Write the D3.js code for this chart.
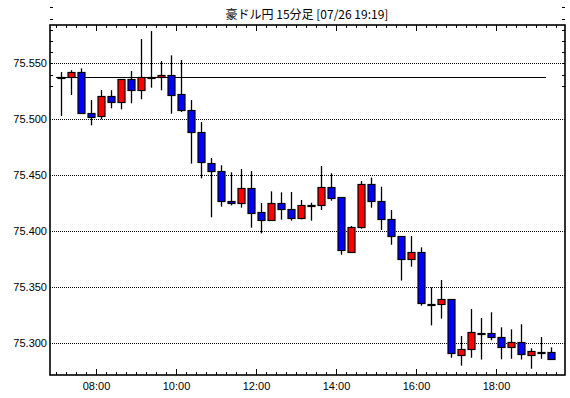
<!DOCTYPE html>
<meta charset="utf-8">
<style>
  body { margin: 0; background: #fff; }
  text { font-family: "Liberation Sans", Arial, sans-serif; font-size: 11px; fill: #000; }
  .title { font-family: "Noto Sans CJK JP", sans-serif; font-size: 12px; }
  .axis path { display: none; }
  .axis line { stroke: #000; shape-rendering: crispEdges; }
</style>
<body>
<script src="https://d3js.org/d3.v7.min.js"></script>
<script>

var titleText = "豪ドル円 15分足 [07/26 19:19]";

var times = ["07:00","07:15","07:30","07:45","08:00","08:15","08:30","08:45",
  "09:00","09:15","09:30","09:45","10:00","10:15","10:30","10:45",
  "11:00","11:15","11:30","11:45","12:00","12:15","12:30","12:45",
  "13:00","13:15","13:30","13:45","14:00","14:15","14:30","14:45",
  "15:00","15:15","15:30","15:45","16:00","16:15","16:30","16:45",
  "17:00","17:15","17:30","17:45","18:00","18:15","18:30","18:45",
  "19:00","19:15"];

var openVals = [75.5375,75.5375,75.5420,75.5053,75.5027,75.5205,75.5152,75.5357,
  75.5268,75.5381,75.5380,75.5400,75.5223,75.5080,75.4884,75.4607,
  75.4536,75.4268,75.4250,75.4387,75.4170,75.4098,75.4250,75.4199,
  75.4116,75.4234,75.4232,75.4392,75.4304,75.3812,75.4032,75.4420,
  75.4268,75.4107,75.3955,75.3750,75.3813,75.3352,75.3348,75.3393,
  75.2893,75.2949,75.3093,75.3089,75.3054,75.2966,75.3015,75.2893,
  75.2925,75.2920];

var highVals = [75.5422,75.5438,75.5455,75.5172,75.5262,75.5260,75.5357,75.5431,
  75.5717,75.5788,75.5520,75.5571,75.5530,75.5172,75.4976,75.4655,
  75.4590,75.4527,75.4556,75.4538,75.4253,75.4357,75.4348,75.4351,
  75.4280,75.4255,75.4583,75.4518,75.4304,75.4047,75.4449,75.4479,
  75.4398,75.4190,75.3955,75.3958,75.3857,75.3500,75.3565,75.3393,
  75.3065,75.3306,75.3226,75.3277,75.3143,75.3125,75.3170,75.2955,
  75.3056,75.2964];

var lowVals = [75.5029,75.5217,75.5050,75.4946,75.5000,75.5098,75.5089,75.5143,
  75.5179,75.5282,75.5259,75.5050,75.5065,75.4604,75.4473,75.4125,
  75.4220,75.4232,75.4211,75.4032,75.3982,75.4098,75.4104,75.4095,
  75.4107,75.4095,75.4190,75.4273,75.3791,75.3812,75.4023,75.4211,
  75.4012,75.3880,75.3560,75.3684,75.3336,75.3160,75.3220,75.2871,
  75.2800,75.2871,75.2855,75.3027,75.2857,75.2862,75.2855,75.2773,
  75.2862,75.2857];

var closeVals = [75.5375,75.5420,75.5050,75.5018,75.5205,75.5152,75.5357,75.5259,
  75.5380,75.5381,75.5400,75.5223,75.5080,75.4884,75.4616,75.4536,
  75.4268,75.4247,75.4387,75.4166,75.4098,75.4250,75.4196,75.4116,
  75.4232,75.4234,75.4392,75.4291,75.3830,75.4036,75.4420,75.4264,
  75.4104,75.3955,75.3750,75.3813,75.3354,75.3352,75.3393,75.2911,
  75.2946,75.3098,75.3093,75.3054,75.2966,75.3015,75.2911,75.2929,
  75.2925,75.2857];

var refLevel = 75.5378;

var yGridVals = [75.300, 75.350, 75.400, 75.450, 75.500, 75.550];
var xTickLabels = ["08:00","10:00","12:00","14:00","16:00","18:00"];

var width = 570, height = 398;
var plot = {left: 50, right: 565, top: 25, bottom: 375};

var toMin = function(s) { return +s.slice(0, 2) * 60 + +s.slice(3); };

var candles = times.map(function(t, i) {
  return {t: toMin(t), o: openVals[i], h: highVals[i], l: lowVals[i], c: closeVals[i]};
});

var x = d3.scaleLinear()
    .domain([411, 1183.5])
    .range([plot.left, plot.right]);

var y = d3.scaleLinear()
    .domain([75.2717, 75.5842])
    .range([plot.bottom, plot.top]);

var svg = d3.select("body").append("svg")
    .attr("width", width)
    .attr("height", height);

svg.append("text")
    .attr("class", "title")
    .attr("x", 307)
    .attr("y", 19)
    .attr("text-anchor", "middle")
    .text(titleText);

// dotted grid
svg.append("g").selectAll("line")
    .data(yGridVals)
  .enter().append("line")
    .attr("x1", plot.left)
    .attr("x2", plot.right)
    .attr("y1", function(d) { return Math.round(y(d)) + 0.5; })
    .attr("y2", function(d) { return Math.round(y(d)) + 0.5; })
    .style("stroke", "#000")
    .style("stroke-dasharray", "1,1");

// minor ticks, every 15 min and every 0.01
var minorX = d3.range(420, 1185, 15);
var majorX = xTickLabels.map(toMin);
var minorY = d3.range(28, 59).map(function(k) { return 75.25 + k * 0.01; });

svg.append("g").attr("class", "axis")
    .attr("transform", "translate(0," + plot.bottom + ")")
    .call(d3.axisBottom(x).tickValues(minorX).tickSizeInner(-3).tickFormat(""));
svg.append("g").attr("class", "axis")
    .attr("transform", "translate(0," + plot.top + ")")
    .call(d3.axisTop(x).tickValues(minorX).tickSizeInner(-3).tickFormat(""));

var xAxis = svg.append("g").attr("class", "axis")
    .attr("transform", "translate(0," + plot.bottom + ")")
    .call(d3.axisBottom(x).tickValues(majorX).tickSizeInner(-6).tickPadding(7)
      .tickFormat(function(d, i) { return xTickLabels[i]; }));
svg.append("g").attr("class", "axis")
    .attr("transform", "translate(0," + plot.top + ")")
    .call(d3.axisTop(x).tickValues(majorX).tickSizeInner(-6).tickFormat(""));

svg.append("g").attr("class", "axis")
    .attr("transform", "translate(" + plot.left + ",0)")
    .call(d3.axisLeft(y).tickValues(minorY).tickSizeInner(-3).tickFormat(""));
svg.append("g").attr("class", "axis")
    .attr("transform", "translate(" + plot.right + ",0)")
    .call(d3.axisRight(y).tickValues(minorY).tickSizeInner(-3).tickFormat(""));

svg.append("g").attr("class", "axis")
    .attr("transform", "translate(" + plot.left + ",0)")
    .call(d3.axisLeft(y).tickValues(yGridVals).tickSizeInner(0).tickPadding(3)
      .tickFormat(d3.format(".3f")));

// reference line (07:00 open)
svg.append("line")
    .attr("x1", x(toMin(times[0])))
    .attr("x2", x(toMin(times[times.length - 1])))
    .attr("y1", Math.round(y(refLevel)) + 0.5)
    .attr("y2", Math.round(y(refLevel)) + 0.5)
    .style("stroke", "#000")
    .style("stroke-width", 1.2);

// candles
var cx = function(d) { return Math.round(x(d.t + 7.5)); };

var g = svg.append("g").selectAll("g")
    .data(candles)
  .enter().append("g");

g.append("line")
    .attr("x1", function(d) { return cx(d) + 0.5; })
    .attr("x2", function(d) { return cx(d) + 0.5; })
    .attr("y1", function(d) { return y(d.h); })
    .attr("y2", function(d) { return y(d.l); })
    .style("stroke", "#000")
    .style("stroke-width", 1.3);

g.append("rect")
    .attr("x", function(d) { return cx(d) - 3; })
    .attr("width", 7)
    .attr("y", function(d) { return Math.round(y(Math.max(d.o, d.c))) + 0.5; })
    .attr("height", function(d) {
      return Math.max(1, Math.round(Math.abs(y(d.o) - y(d.c))));
    })
    .style("fill", function(d) {
      if (d.o === d.c) return "#000";
      return d.c > d.o ? "#ff0000" : "#0000ff";
    })
    .style("stroke", "#000")
    .style("stroke-width", 1.2);

// frame
svg.append("rect")
    .attr("x", plot.left)
    .attr("y", plot.top)
    .attr("width", plot.right - plot.left)
    .attr("height", plot.bottom - plot.top)
    .style("fill", "none")
    .style("stroke", "#000")
    .style("stroke-width", 1.6);

</script>
</body>
